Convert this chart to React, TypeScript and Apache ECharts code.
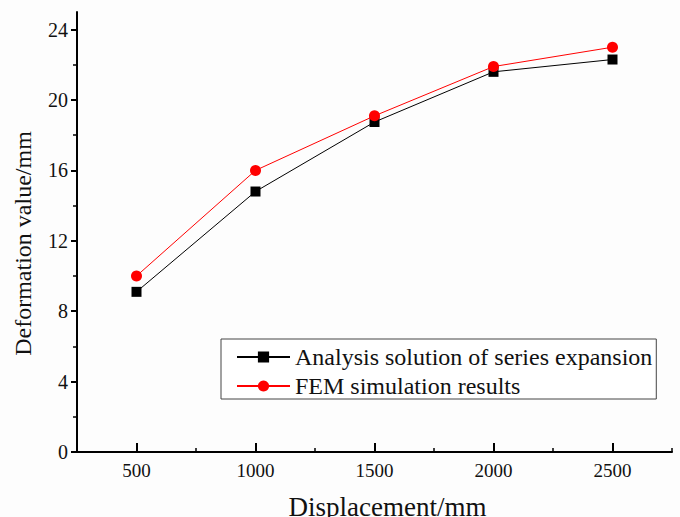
import React, { useEffect, useRef } from "react";
import * as echarts from "echarts";

const displacement = [500, 1000, 1500, 2000, 2500];
const analysisValues = [9.1, 14.8, 18.75, 21.6, 22.3];
const femValues = [10.0, 16.0, 19.1, 21.9, 23.0];
const xMajorTicks = [500, 1000, 1500, 2000, 2500];
const xMinorTicks = [750, 1250, 1750, 2250, 2750];
const yMajorTicks = [0, 4, 8, 12, 16, 20, 24];
const yMinorTicks = [2, 6, 10, 14, 18, 22];
const seriesNames = ["Analysis solution of series expansion", "FEM simulation results"];

const FONT = "Liberation Serif";

export default function App() {
  const ref = useRef<HTMLDivElement>(null);
  useEffect(() => {
    if (!ref.current) return;
    const chart = echarts.init(ref.current, undefined, { renderer: "svg" });
    const axisLine = { show: true, onZero: false, lineStyle: { color: "#000", width: 2 } };
    chart.setOption({
      animation: false,
      backgroundColor: "#fdfdfd",
      textStyle: { fontFamily: FONT },
      grid: { left: 77, right: 8, top: 12, bottom: 65, containLabel: false, outerBoundsMode: "none" },
      legend: {
        orient: "vertical",
        left: 221,
        top: 339,
        padding: [5, 4, 0, 15],
        itemGap: 3,
        itemWidth: 53,
        itemHeight: 14,
        borderColor: "#444",
        borderWidth: 1,
        backgroundColor: "#fff",
        textStyle: { fontFamily: FONT, fontSize: 24, color: "#111", lineHeight: 26 },
        data: seriesNames,
      },
      xAxis: [
        {
          type: "value",
          min: 250,
          max: 2750,
          interval: 250,
          position: "bottom",
          name: "Displacement/mm",
          nameLocation: "middle",
          nameGap: 41,
          nameTextStyle: { fontFamily: FONT, fontSize: 27, color: "#111", padding: [0, 0, 0, 26] },
          axisLine,
          splitLine: { show: false },
          axisTick: { show: true, inside: true, length: 9, customValues: xMajorTicks, lineStyle: { color: "#000", width: 2 } },
          axisLabel: {
            show: true,
            fontFamily: FONT,
            fontSize: 19,
            color: "#111",
            margin: 9,
            formatter: (v: number) => (xMajorTicks.includes(v) ? String(v) : ""),
          },
        },
        {
          type: "value",
          min: 250,
          max: 2750,
          position: "bottom",
          offset: 0,
          axisLine: { show: false },
          splitLine: { show: false },
          axisTick: { show: true, inside: true, length: 4, customValues: xMinorTicks, lineStyle: { color: "#000", width: 1.5 } },
          axisLabel: { show: false },
        },
      ],
      yAxis: [
        {
          type: "value",
          min: 0,
          max: 25,
          interval: 4,
          position: "left",
          name: "Deformation value/mm",
          nameLocation: "middle",
          nameGap: 42,
          nameTextStyle: { fontFamily: FONT, fontSize: 24, color: "#111", padding: [0, 23, 0, 0] },
          axisLine,
          splitLine: { show: false },
          axisTick: { show: true, inside: false, length: 6, customValues: yMajorTicks, lineStyle: { color: "#000", width: 2 } },
          axisLabel: {
            show: true,
            fontFamily: FONT,
            fontSize: 20,
            color: "#111",
            margin: 9,
            formatter: (v: number) => (yMajorTicks.includes(v) ? String(v) : ""),
          },
        },
        {
          type: "value",
          min: 0,
          max: 25,
          position: "left",
          offset: 0,
          axisLine: { show: false },
          splitLine: { show: false },
          axisTick: { show: true, inside: false, length: 4, customValues: yMinorTicks, lineStyle: { color: "#000", width: 1.5 } },
          axisLabel: { show: false },
        },
      ],
      series: [
        {
          name: seriesNames[0],
          type: "line",
          xAxisIndex: 0,
          yAxisIndex: 0,
          data: displacement.map((x, i) => [x, analysisValues[i]]),
          symbol: "rect",
          symbolSize: 10,
          lineStyle: { color: "#000", width: 1 },
          itemStyle: { color: "#000" },
          z: 2,
        },
        {
          name: seriesNames[1],
          type: "line",
          xAxisIndex: 0,
          yAxisIndex: 0,
          data: displacement.map((x, i) => [x, femValues[i]]),
          symbol: "circle",
          symbolSize: 11,
          lineStyle: { color: "#ff0000", width: 1 },
          itemStyle: { color: "#ff0000" },
          z: 3,
        },
      ],
    });
    return () => chart.dispose();
  }, []);
  return <div ref={ref} style={{ width: 680, height: 517, position: "absolute", left: 0, top: 0 }} />;
}
